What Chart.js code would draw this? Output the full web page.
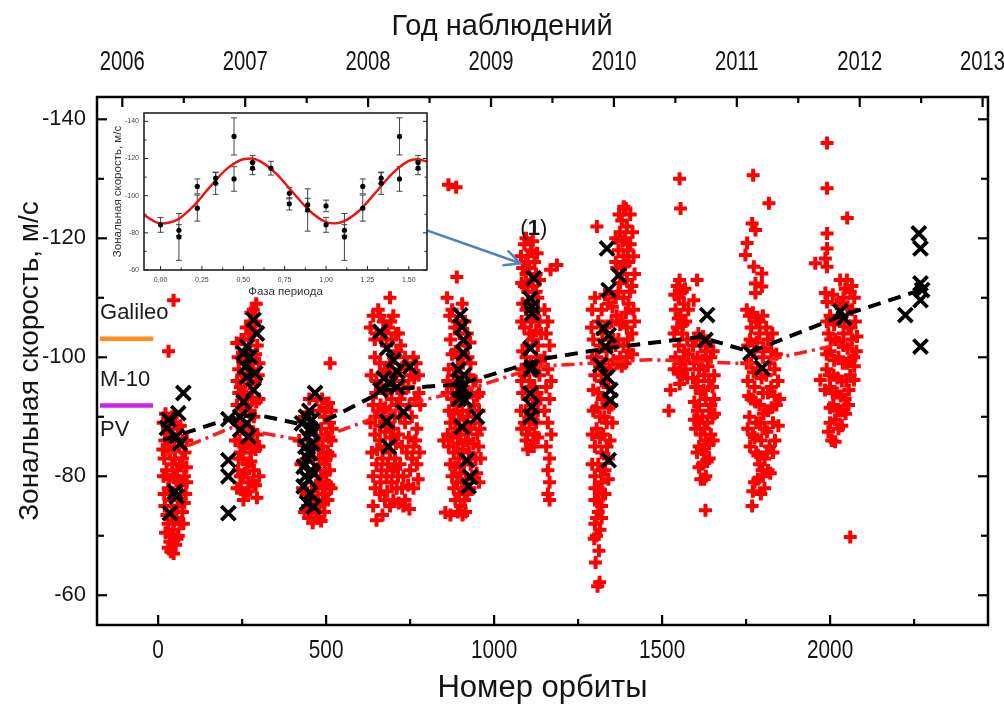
<!DOCTYPE html>
<html><head><meta charset="utf-8">
<script src="https://cdn.jsdelivr.net/npm/chart.js@4.4.1/dist/chart.umd.min.js"></script>
<style>
html,body{margin:0;padding:0;background:#fff;}
#wrap{position:relative;width:1004px;height:704px;overflow:hidden;}
#main{position:absolute;left:0;top:0;}
#insetBox{position:absolute;left:100px;top:103px;width:340px;height:200px;}
</style></head><body>
<div id="wrap">
<canvas id="main" width="1004" height="704"></canvas>
<div id="insetBox"><canvas id="inset" width="340" height="200"></canvas></div>
</div>
<script>
// ---------- main chart data (orbit number, zonal speed m/s) ----------
const xTicks = [0, 500, 1000, 1500, 2000];
const xMinor = [250, 750, 1250, 1750, 2250];
const yearTicks = [2006, 2007, 2008, 2009, 2010, 2011, 2012, 2013];
const yearMinor = [2006.5, 2007.5, 2008.5, 2009.5, 2010.5, 2011.5, 2012.5];
const yTicks = [-140, -120, -100, -80, -60];
const yMinor = [-130, -110, -90, -70];

const red2006 = [[46,-109.6],[31,-101],[15,-89],[28,-88],[42,-90],[58,-88],[72,-86],[20,-86],[35,-84],[50,-83],[65,-82],[80,-84],[25,-81],[45,-80],[60,-79],[78,-80],[30,-78],[50,-77],[68,-76],[82,-77],[20,-75],[40,-74],[55,-73],[72,-74],[30,-72],[45,-71],[60,-70],[35,-69],[52,-68.5],[38,-67.3],[75,-72],[85,-79],[62,-85],[18,-83],[48,-86],
  [22,-90.5],[36,-87],[52,-89],[66,-88.5],[14,-84.5],[28,-85],[42,-82],[56,-81],[72,-83],[84,-81.5],[16,-80],[33,-79.5],[52,-79.8],[68,-78.5],[18,-77],[40,-76],[58,-75],[78,-75.5],[26,-73.5],[48,-72.5],[64,-72],[22,-70.5],[40,-70],[56,-69.5],[30,-68],[46,-67],[85,-86]];
const red2007 = [[283,-108],[290,-106],[280,-104],[270,-103],[295,-102],[260,-101],[250,-100],[275,-99],[240,-98],[265,-97],[290,-96],[245,-95],[255,-94],[280,-93],[235,-92],[260,-91],[285,-90],[245,-89],[270,-88],[295,-87],[230,-86],[255,-85],[275,-84],[240,-83],[265,-82],[285,-81],[250,-80],[270,-79],[235,-78],[260,-77],[294,-76.4],[245,-84],[250,-88],[265,-92],[234,-102.4],[300,-99],[300,-93],[275,-106],[235,-96],[255,-103],[280,-86],[245,-80],[300,-80],[300,-85],
  [292,-109],[276,-107.5],[262,-105],[286,-104.5],[248,-103],[268,-101],[290,-100.5],[238,-100],[258,-99],[282,-98],[298,-97],[250,-97],[272,-95.5],[240,-94],[262,-93.5],[292,-92.5],[250,-91.5],[274,-91],[238,-89.5],[258,-88],[282,-87.5],[242,-86],[266,-85.5],[290,-84.5],[252,-83],[276,-82.5],[238,-81],[258,-80.5],[282,-79],[246,-78],[268,-77.5],[290,-78.5],[254,-76]];
const red2007b = [[512,-99],[507,-92.3],[472,-92.8],[480,-91],[495,-90],[510,-89],[485,-88],[500,-87],[515,-86],[475,-86],[490,-85],[505,-84],[480,-83],[495,-82],[510,-81],[470,-81],[485,-80],[500,-79],[515,-78],[475,-78],[490,-77],[505,-76],[465,-76],[480,-75],[495,-74],[455,-74],[470,-73],[485,-72.5],[445,-75],[460,-72.2],[430,-78],[425,-82],[420,-86],[435,-90],[450,-93],[440,-77],[500,-83],[515,-91],
  [488,-93],[502,-91.5],[518,-88],[470,-88],[478,-84.5],[492,-83],[508,-86.5],[462,-83],[470,-78.5],[486,-79],[498,-80.5],[512,-83.5],[458,-77.5],[476,-76],[492,-75.5],[508,-78.5],[448,-73],[462,-74.5],[478,-73],[496,-77],[436,-74],[452,-76.5]];
const red2008 = [[640,-107],[655,-108],[670,-106],[685,-105],[700,-107],[650,-104],[665,-103],[680,-102],[695,-103],[710,-101],[645,-100],[660,-99],[675,-98],[690,-99],[705,-97],[720,-98],[740,-99],[760,-100],[775,-97],[650,-96],[665,-95],[680,-94],[695,-93],[710,-92],[725,-94],[745,-95],[765,-93],[640,-92],[655,-91],[670,-90],[685,-89],[700,-88],[715,-87],[735,-89],[755,-90],[770,-88],[645,-87],[660,-86],[675,-85],[690,-84],[705,-83],[720,-82],[740,-84],[760,-85],[650,-82],[665,-81],[680,-80],[695,-79],[710,-78],[730,-80],[750,-81],[770,-82],[660,-77],[675,-76],[690,-75],[735,-76],[650,-72.6],[730,-75],[760,-78],[640,-80],[700,-100],[715,-104],[690,-110],[780,-92],
  [632,-105],[645,-103],[660,-107],[676,-104],[692,-106],[708,-104],[722,-102],[735,-100],[752,-97],[768,-99],[634,-97],[648,-94],[662,-92],[676,-91.5],[690,-91],[704,-90],[720,-90],[730,-96],[748,-92],[762,-96.5],[776,-94],[632,-89],[646,-90],[660,-88.5],[676,-87.5],[692,-86.5],[708,-85.5],[726,-85],[746,-86.5],[766,-86],[778,-84],[636,-84],[652,-84.5],[668,-83],[684,-82],[698,-81],[714,-80],[726,-78],[744,-78.5],[756,-83],[774,-79.5],[646,-78],[662,-79],[682,-77.5],[700,-76],[716,-75.5],[748,-74.5],[668,-73.5],[640,-75],[705,-81.5],[720,-93],[695,-96],[680,-97.5]];
const red2009 = [[864,-129],[887,-128.6],[860,-110],[875,-108],[890,-106],[905,-109],[920,-104],[870,-103],[885,-101],[900,-100],[915,-102],[930,-99],[865,-98],[880,-97],[895,-96],[910,-95],[925,-97],[945,-96],[860,-94],[875,-93],[890,-92],[905,-91],[920,-90],[940,-92],[955,-91],[870,-89],[885,-88],[900,-87],[915,-86],[930,-88],[950,-87],[865,-85],[880,-84],[895,-83],[910,-82],[925,-84],[945,-83],[875,-80],[890,-79],[905,-78],[920,-77],[935,-80],[955,-79],[885,-76],[900,-75],[915,-74],[870,-73.5],[960,-83],[889,-113.5],[850,-86],[955,-94],[855,-73.9],
  [868,-107],[883,-105],[897,-104],[913,-106],[928,-102.5],[875,-100.5],[892,-98.5],[907,-99],[922,-100],[938,-96],[862,-96],[874,-95],[888,-94],[903,-93],[918,-93.5],[932,-94],[950,-93.5],[866,-91],[880,-90.5],[896,-89.5],[912,-88.5],[926,-91],[942,-89],[958,-88],[862,-87],[876,-86.5],[892,-85.5],[906,-84.5],[922,-86],[938,-85.5],[954,-85],[870,-82],[884,-81.5],[900,-80.5],[916,-79.5],[930,-82],[948,-80.5],[880,-78],[896,-77],[912,-76],[928,-78],[892,-74],[906,-73.5]];
const red2009b = [[1090,-119],[1100,-117],[1110,-118],[1120,-116],[1085,-115],[1095,-114],[1105,-115],[1125,-114],[1135,-113],[1090,-112],[1100,-111],[1115,-112],[1130,-110],[1085,-109],[1095,-108],[1120,-107],[1135,-106],[1090,-105],[1105,-104],[1115,-103],[1130,-102],[1085,-101],[1095,-100],[1110,-99],[1125,-100],[1090,-97],[1105,-96],[1120,-95],[1135,-97],[1085,-94],[1100,-93],[1115,-92],[1130,-91],[1090,-89],[1105,-88],[1120,-87],[1095,-86],[1110,-85],[1100,-84.5],[1125,-89],[1080,-91],[1140,-104],[1168,-114.7],[1187,-115.5],[1150,-108],[1160,-106],[1155,-104],[1165,-102],[1150,-100],[1160,-98],[1170,-96],[1155,-95],[1165,-93],[1150,-91],[1160,-89],[1170,-87],[1155,-85],[1165,-83],[1160,-81],[1165,-79],[1160,-77],[1165,-76],
  [1095,-120],[1115,-119.5],[1080,-117],[1128,-117.5],[1095,-116],[1110,-113],[1082,-112.5],[1125,-111],[1102,-109],[1130,-108],[1082,-106],[1110,-106],[1098,-102],[1125,-104.5],[1082,-98],[1118,-98],[1138,-99.5],[1098,-98.5],[1112,-95],[1082,-96],[1128,-94],[1094,-91],[1108,-90.5],[1138,-93],[1082,-88],[1116,-89.5],[1098,-87],[1130,-86.5],[1118,-85]];
const red2010 = [[1300,-110],[1320,-108],[1340,-109],[1310,-106],[1330,-105],[1350,-106],[1295,-103],[1315,-102],[1335,-101],[1355,-103],[1305,-100],[1325,-99],[1345,-98],[1300,-97],[1320,-96],[1340,-95],[1310,-94],[1330,-93],[1350,-92],[1295,-91],[1315,-90],[1335,-89],[1305,-88],[1325,-87],[1345,-86],[1300,-85],[1320,-84],[1340,-83],[1310,-82],[1330,-81],[1300,-80],[1320,-79],[1310,-78],[1330,-77],[1300,-76],[1320,-75],[1310,-74],[1300,-72],[1315,-71],[1305,-70],[1320,-73],[1306,-122],[1308,-61.5],[1314,-62.2],
  [1292,-108],[1330,-110.5],[1352,-108.5],[1290,-105],[1322,-104],[1342,-103],[1292,-100],[1314,-98.5],[1336,-97.5],[1355,-99.5],[1295,-94.5],[1322,-93],[1342,-91.5],[1305,-91.5],[1328,-90],[1292,-87],[1315,-86.5],[1336,-85],[1352,-89],[1292,-82],[1318,-81],[1340,-79.5],[1300,-78],[1322,-77],[1310,-76],[1305,-73],[1298,-69.5],[1312,-67.5],[1302,-65.5],
  [1386,-125.3],[1380,-123],[1395,-122],[1375,-121],[1390,-120],[1405,-119],[1370,-118],[1385,-117],[1400,-116],[1415,-117],[1365,-115],[1380,-114],[1395,-113],[1410,-112],[1370,-111],[1385,-110],[1400,-109],[1415,-108],[1365,-107],[1380,-106],[1395,-105],[1410,-104],[1370,-103],[1385,-102],[1400,-101],[1375,-100],[1390,-99],[1380,-98.5],[1405,-124],
  [1372,-124],[1392,-125],[1362,-120],[1382,-119.5],[1412,-121],[1398,-118],[1362,-116],[1390,-115.5],[1418,-114],[1375,-112.5],[1404,-111],[1362,-110],[1392,-107.5],[1418,-106],[1375,-105.5],[1362,-102],[1398,-103],[1412,-100.5],[1368,-99],[1395,-100]];
const red2010b = [[1552,-130],[1555,-125],[1545,-112],[1560,-111],[1550,-110],[1565,-109],[1540,-108],[1555,-107],[1570,-106],[1545,-105],[1560,-104],[1575,-103],[1550,-102],[1565,-101],[1540,-100],[1555,-99],[1570,-98],[1560,-97],[1525,-94.5],[1520,-91],[1604,-113],[1594,-109.6],
  [1538,-110.5],[1552,-113],[1568,-111.5],[1578,-108],[1536,-104],[1548,-106.5],[1562,-105.5],[1578,-100.5],[1536,-98],[1548,-97.5],[1566,-99.5],[1575,-96.5],[1552,-95.5],
  [1600,-103],[1615,-102],[1630,-101],[1645,-100],[1595,-99],[1610,-98],[1625,-97],[1640,-96],[1655,-97],[1600,-95],[1615,-94],[1630,-93],[1645,-92],[1605,-91],[1620,-90],[1635,-89],[1650,-90],[1600,-88],[1615,-87],[1630,-86],[1645,-87],[1610,-85],[1625,-84],[1620,-82],[1630,-80],[1615,-79.5],[1629,-74.3],[1640,-83],[1605,-100],[1655,-93],
  [1592,-102],[1608,-104],[1622,-103.5],[1638,-102.5],[1652,-101],[1592,-96.5],[1606,-96],[1620,-99.5],[1636,-98.5],[1650,-95],[1596,-92.5],[1610,-92],[1624,-94.5],[1640,-91],[1656,-90.5],[1596,-89.5],[1610,-89],[1626,-88],[1640,-85.5],[1652,-86],[1604,-84],[1618,-84.5],[1634,-82.5],[1610,-81.5],[1625,-79.5]];
const red2011 = [[1771,-130.6],[1818,-125.9],[1768,-122.5],[1778,-121.4],[1753,-119.2],[1748,-117.2],[1773,-115.2],[1797,-114.1],[1778,-112.4],[1797,-111.9],[1778,-110.8],
  [1760,-107],[1780,-106],[1800,-107],[1765,-105],[1790,-104],[1815,-103],[1755,-102],[1775,-101],[1800,-100],[1825,-101],[1765,-99],[1785,-98],[1810,-97],[1835,-98],[1755,-96],[1775,-95],[1800,-94],[1825,-95],[1845,-96],[1765,-93],[1790,-92],[1815,-91],[1840,-92],[1760,-90],[1780,-89],[1805,-88],[1830,-89],[1770,-87],[1795,-86],[1820,-85],[1780,-84],[1805,-83],[1830,-84],[1790,-82],[1815,-81],[1800,-80],[1768,-75],[1775,-79],
  [1752,-108],[1770,-107.5],[1790,-106],[1810,-105],[1828,-104],[1762,-103],[1782,-102.5],[1802,-101.5],[1820,-99],[1840,-100.5],[1752,-99],[1772,-97.5],[1796,-96.5],[1815,-94],[1835,-93.5],[1850,-93],[1758,-93.5],[1778,-92.5],[1802,-90.5],[1826,-91.5],[1846,-88.5],[1755,-88],[1775,-86.5],[1792,-89],[1812,-87.5],[1836,-86],[1762,-85],[1785,-83.5],[1812,-84],[1798,-81],[1822,-80.5],[1785,-79.5],[1805,-78],[1770,-77.5],[1794,-77]];
const red2012 = [[1991,-136],[1991,-128.4],[2051,-123.4],[1991,-120.8],[1991,-118.3],[1986,-116.6],[1956,-115.8],[1991,-115.2],[1986,-110.8],[1991,-109.3],
  [2050,-113],[2060,-111],[2040,-110],[2020,-109],[2065,-108],[2000,-107],[2030,-106],[2055,-105],[2075,-106],[1995,-104],[2015,-103],[2040,-102],[2065,-103],[2000,-101],[2025,-100],[2050,-99],[2070,-100],[1990,-98],[2010,-97],[2035,-96],[2060,-97],[1971,-96.2],[2071,-96.2],[2000,-95],[2020,-94],[2045,-93],[2010,-92],[2035,-91],[2055,-92],[2000,-89],[2025,-88],[2005,-86],[2015,-85.8],[2060,-69.8],[2040,-104],
  [2030,-113],[2045,-111.5],[2065,-112],[2008,-110.5],[2032,-109],[2052,-108.5],[2072,-110],[1990,-106],[2012,-105.5],[2042,-106],[2062,-105],[2080,-103.5],[2002,-103],[2026,-102.5],[2052,-101.5],[2078,-101],[1990,-100.5],[2012,-99.5],[2038,-99],[2062,-99.5],[1998,-97],[2022,-96.5],[2048,-96],[2072,-98.5],[1985,-94.5],[2008,-94],[2032,-93.5],[2056,-94.5],[2000,-91.5],[2024,-91],[2046,-90.5],[2015,-89.5],[2035,-88.5],[1995,-87.5]];

const black2006 = [[75,-94],[60,-90.6],[31,-89.5],[26,-88.1],[55,-86.7],[65,-85.5],[50,-77.4],[55,-76.6],[35,-73.8]];
const black2007 = [[209,-82.7],[209,-80],[209,-73.8],[209,-89.6],[284,-106.3],[294,-104],[264,-101.8],[254,-100.7],[274,-100.1],[259,-98.4],[289,-97.3],[264,-96.7],[284,-94.5],[254,-92.5],[244,-90],[264,-88.9],[269,-86.7],[244,-87.8]];
const black2007b = [[467,-94],[428,-88.9],[443,-86.7],[453,-83.9],[433,-81.6],[448,-79.4],[453,-77.1],[443,-75.5],[463,-74.9],[438,-85],[458,-89.5],[463,-80.5],[433,-78.3],[458,-87.2],[440,-90],[450,-91],[445,-83],[455,-81],[438,-80],[448,-84],[460,-85.5],[452,-88]];
const black2008 = [[661,-104.3],[681,-101.5],[701,-99.5],[750,-98.4],[671,-96.5],[691,-95.6],[711,-97.6],[661,-94.5],[731,-90.8],[681,-89.2],[686,-85],[711,-95]];
const black2009 = [[899,-107.1],[904,-105.1],[909,-102.9],[909,-100.7],[894,-97.9],[899,-96.2],[899,-94.5],[914,-92.8],[949,-90],[904,-88.3],[919,-82.7],[929,-79.9],[924,-78.3],[905,-95],[895,-93],[910,-97]];
const black2009b = [[1118,-113.3],[1108,-109.9],[1113,-108.5],[1113,-107.4],[1108,-101.5],[1113,-98.4],[1108,-97.9],[1108,-93.9],[1113,-91.7],[1108,-90]];
const black2010 = [[1336,-118.3],[1371,-113.8],[1341,-111.3],[1326,-104.9],[1341,-103.7],[1331,-101.8],[1316,-98.7],[1336,-96.7],[1346,-94.5],[1346,-92.8],[1341,-82.7]];
const black2011 = [[1634,-107.1],[1629,-102.9],[1763,-100.7],[1798,-98.2]];
const black2012 = [[2031,-107.7],[2041,-106.6],[2264,-120.8],[2269,-118.3],[2269,-112.4],[2274,-111.3],[2269,-109.6],[2224,-107.1],[2269,-101.8]];

const blackLineOrbit = [15, 208, 289, 462, 676, 899, 1152, 1346, 1614, 1763, 2031, 2269];
const blackLineV = [-86.1, -89.6, -90.4, -88.3, -94.5, -95.5, -99.8, -101.6, -103.4, -100.9, -106.9, -111.3];
const redLineOrbit = [20, 220, 453, 780, 899, 1137, 1465, 1763, 2030];
const redLineV = [-83.5, -88.2, -85.8, -92.7, -94.2, -98.5, -99.6, -98.9, -102.2];

const galileoOrbit = [-173, -15], galileoV = [-103.1, -103.1];
const m10Orbit = [-173, -15], m10V = [-91.9, -91.9];

// ---------- inset data (phase, speed, error) ----------
const insetPhase = [0, 0.111, 0.111, 0.222, 0.222, 0.333, 0.333, 0.444, 0.444, 0.556, 0.556, 0.667, 0.778, 0.778, 0.889, 0.889, 1.0, 1.0, 1.111, 1.111, 1.222, 1.222, 1.333, 1.333, 1.444, 1.444, 1.556, 1.556];
const insetV = [-84.3, -81.4, -77.8, -105, -93.3, -109.4, -106.7, -131.9, -109, -117.9, -114.8, -114.8, -101.3, -95.6, -95, -92.3, -94.5, -84.3, -81.4, -77.8, -105, -93.3, -109.4, -106.7, -131.9, -109, -117.9, -114.8];
const insetErr = [4, 3, 12.6, 4, 7, 3, 6, 10, 6.6, 3.8, 3.5, 3.7, 3, 3.3, 3.6, 11.4, 3.1, 4, 3, 12.6, 4, 7, 3, 6, 10, 6.6, 3.8, 3.5];
const curvePhase = [-0.1, 0, 0.1, 0.2, 0.3, 0.4, 0.5, 0.55, 0.6, 0.7, 0.8, 0.9, 1.0, 1.05, 1.1, 1.2, 1.3, 1.4, 1.5, 1.55, 1.61];
const curveV = [-89.5, -85.1, -87.0, -94.5, -104.9, -114.4, -119.6, -120, -118.6, -111.8, -101.7, -91.9, -85.8, -85.1, -85.9, -91.9, -101.7, -111.9, -118.7, -119.6, -118.4];
const insetXTicks = [0, 0.25, 0.5, 0.75, 1.0, 1.25, 1.5];
const insetXMinor = [0.125, 0.375, 0.625, 0.875, 1.125, 1.375];
const insetYTicks = [-140, -120, -100, -80, -60];
const insetYMinor = [-130, -110, -90, -70];

// ---------- build ----------
const pts = arr => arr.map(([x, y]) => ({x, y}));
const zip = (xs, ys) => xs.map((x, i) => ({x, y: ys[i]}));
const redAll = pts([].concat(red2006, red2007, red2007b, red2008, red2009, red2009b, red2010, red2010b, red2011, red2012));
const blackAll = pts([].concat(black2006, black2007, black2007b, black2008, black2009, black2009b, black2010, black2011, black2012));

const SANS = "'Liberation Sans',Arial,sans-serif";
const TXT = '#151515';
const noPad = s => { s.paddingLeft = 0; s.paddingRight = 0; s.paddingTop = 0; s.paddingBottom = 0; };

const framePlugin = {
  id: 'frame',
  afterDraw(chart) {
    const {ctx, chartArea: a, scales} = chart;
    ctx.save();
    ctx.strokeStyle = '#000';
    ctx.lineWidth = 2.5;
    ctx.strokeRect(a.left, a.top, a.right - a.left, a.bottom - a.top);
    ctx.lineWidth = 2.2;
    const seg = (x1, y1, x2, y2) => { ctx.beginPath(); ctx.moveTo(x1, y1); ctx.lineTo(x2, y2); ctx.stroke(); };
    xTicks.forEach(v => { const p = scales.x.getPixelForValue(v); seg(p, a.bottom, p, a.bottom - 10); });
    xMinor.forEach(v => { const p = scales.x.getPixelForValue(v); seg(p, a.bottom, p, a.bottom - 6); });
    yearTicks.forEach(v => { const p = scales.x2.getPixelForValue(v); seg(p, a.top, p, a.top + 10); });
    yearMinor.forEach(v => { const p = scales.x2.getPixelForValue(v); seg(p, a.top, p, a.top + 6); });
    yTicks.forEach(v => { const p = scales.y.getPixelForValue(v); seg(a.left, p, a.left + 10, p); seg(a.right, p, a.right - 10, p); });
    yMinor.forEach(v => { const p = scales.y.getPixelForValue(v); seg(a.left, p, a.left + 7, p); seg(a.right, p, a.right - 7, p); });

    // condensed tick labels for the two horizontal axes
    ctx.fillStyle = TXT;
    const cond = (txt, x, y, size, k) => {
      ctx.save(); ctx.font = size + "px " + SANS; ctx.translate(x, y); ctx.scale(k, 1);
      ctx.textAlign = 'center'; ctx.textBaseline = 'middle'; ctx.fillText(txt, 0, 0); ctx.restore();
    };
    xTicks.forEach(v => cond(String(v), scales.x.getPixelForValue(v), a.bottom + 26, 26, 0.8));
    yearTicks.forEach(v => cond(String(v), scales.x2.getPixelForValue(v), a.top - 34, 27, 0.75));

    const X = v => scales.x.getPixelForValue(v), Y = v => scales.y.getPixelForValue(v);
    ctx.fillStyle = '#1a1a1a';
    ctx.font = "22px " + SANS;
    ctx.textAlign = 'left'; ctx.textBaseline = 'middle';
    ctx.fillText('Galileo', X(-173), Y(-107.4));
    ctx.fillText('M-10', X(-173), Y(-96.2));
    ctx.fillText('PV', X(-173), Y(-87.8));

    const x1 = X(696), y1 = Y(-123.4), x2 = X(1078), y2 = Y(-115.8);
    ctx.strokeStyle = '#4f81bd'; ctx.lineWidth = 2.5; ctx.lineCap = 'round';
    seg(x1, y1, x2, y2);
    const ang = Math.atan2(y2 - y1, x2 - x1), L = 17, w = 0.45;
    ctx.beginPath();
    ctx.moveTo(x2 - L * Math.cos(ang - w), y2 - L * Math.sin(ang - w));
    ctx.lineTo(x2, y2);
    ctx.lineTo(x2 - L * Math.cos(ang + w), y2 - L * Math.sin(ang + w));
    ctx.stroke();
    ctx.fillStyle = '#111';
    const tx = X(1118), ty = Y(-121.5);
    ctx.font = "22px " + SANS;
    const wP = ctx.measureText('(').width;
    ctx.font = "bold 22px " + SANS;
    const w1 = ctx.measureText('1').width;
    let cx = tx - (wP * 2 + w1) / 2;
    ctx.font = "22px " + SANS; ctx.fillText('(', cx, ty); cx += wP;
    ctx.font = "bold 22px " + SANS; ctx.fillText('1', cx, ty); cx += w1;
    ctx.font = "22px " + SANS; ctx.fillText(')', cx, ty);
    ctx.restore();
  }
};

const TITLE_SIZE = 29, TITLE_PAD = 10;

new Chart(document.getElementById('main'), {
  type: 'scatter',
  data: {
    datasets: [
      {data: redAll, pointStyle: 'cross', pointRadius: 6.5, pointBorderColor: '#ff0000', pointBorderWidth: 4, borderColor: '#ff0000', order: 6},
      {type: 'line', data: zip(redLineOrbit, redLineV), borderColor: '#ff1a1a', borderWidth: 3.5, borderDash: [13, 5, 3, 5], pointRadius: 0, fill: false, tension: 0, order: 5},
      {type: 'line', data: zip(blackLineOrbit, blackLineV), borderColor: '#000', borderWidth: 4, borderDash: [13, 8], pointRadius: 0, fill: false, tension: 0, order: 4},
      {type: 'line', data: zip(galileoOrbit, galileoV), borderColor: '#ff8a1e', borderWidth: 4.5, pointRadius: 0, fill: false, order: 3},
      {type: 'line', data: zip(m10Orbit, m10V), borderColor: '#cc22f0', borderWidth: 4.5, pointRadius: 0, fill: false, order: 3},
      {data: blackAll, pointStyle: 'crossRot', pointRadius: 10, pointBorderColor: '#000', pointBorderWidth: 3.8, borderColor: '#000', order: 1}
    ]
  },
  options: {
    responsive: false, animation: false,
    layout: {padding: 0},
    plugins: {
      legend: {display: false}, tooltip: {enabled: false},
      title: {display: true, text: 'Год наблюдений', color: TXT, font: {family: SANS, size: TITLE_SIZE, weight: 'normal'}, padding: {top: TITLE_PAD, bottom: 0}}
    },
    scales: {
      x: {
        type: 'linear', position: 'bottom', min: -182, max: 2470,
        grid: {display: false, drawTicks: false}, border: {display: false},
        afterBuildTicks: s => { s.ticks = xTicks.map(v => ({value: v})); },
        afterFit: s => { s.height = 79; noPad(s); },
        ticks: {display: false},
        title: {display: true, text: 'Номер орбиты', color: TXT, font: {family: SANS, size: 31}, padding: {top: 0, bottom: -3}}
      },
      x2: {
        axis: 'x', type: 'linear', position: 'top', min: 2005.794, max: 2013.044,
        grid: {display: false, drawTicks: false}, border: {display: false},
        afterBuildTicks: s => { s.ticks = yearTicks.map(v => ({value: v})); },
        afterFit: s => { s.height = 97 - (TITLE_SIZE * 1.2 + TITLE_PAD); noPad(s); },
        ticks: {display: false}
      },
      y: {
        type: 'linear', position: 'left', min: -143.75, max: -55, reverse: true,
        grid: {display: false, drawTicks: false}, border: {display: false},
        afterBuildTicks: s => { s.ticks = yTicks.map(v => ({value: v})); },
        afterFit: s => { s.width = 97; noPad(s); },
        ticks: {padding: 11, color: TXT, font: {family: SANS, size: 22}, autoSkip: false, callback: v => String(v)},
        title: {display: true, text: 'Зональная скорость, м/с', color: TXT, font: {family: SANS, size: 28}, padding: {top: 13, bottom: 0}}
      },
      yR: {
        axis: 'y', type: 'linear', position: 'right', min: 0, max: 1,
        grid: {display: false, drawTicks: false}, border: {display: false},
        ticks: {display: false},
        afterFit: s => { s.width = 16; noPad(s); }
      }
    }
  },
  plugins: [framePlugin]
});

// ---------- inset chart ----------
const insetFrame = {
  id: 'insetFrame',
  beforeDatasetsDraw(chart) {
    const {ctx, chartArea: a, scales: {x, y}} = chart;
    ctx.save();
    ctx.fillStyle = '#fff';
    ctx.fillRect(a.left, a.top, a.right - a.left, a.bottom - a.top);
    ctx.strokeStyle = '#444'; ctx.lineWidth = 1;
    insetPhase.forEach((p, i) => {
      const px = x.getPixelForValue(p);
      const yA = y.getPixelForValue(insetV[i] - insetErr[i]);
      const yB = y.getPixelForValue(insetV[i] + insetErr[i]);
      ctx.beginPath();
      ctx.moveTo(px, yA); ctx.lineTo(px, yB);
      ctx.moveTo(px - 3, yA); ctx.lineTo(px + 3, yA);
      ctx.moveTo(px - 3, yB); ctx.lineTo(px + 3, yB);
      ctx.stroke();
    });
    ctx.restore();
  },
  afterDraw(chart) {
    const {ctx, chartArea: a, scales: {x, y}} = chart;
    ctx.save();
    ctx.strokeStyle = '#222'; ctx.lineWidth = 1.6;
    ctx.strokeRect(a.left, a.top, a.right - a.left, a.bottom - a.top);
    ctx.lineWidth = 1;
    const seg = (x1, y1, x2, y2) => { ctx.beginPath(); ctx.moveTo(x1, y1); ctx.lineTo(x2, y2); ctx.stroke(); };
    insetXTicks.forEach(v => { const p = x.getPixelForValue(v); seg(p, a.bottom, p, a.bottom - 4); });
    insetXMinor.forEach(v => { const p = x.getPixelForValue(v); seg(p, a.bottom, p, a.bottom - 2.5); });
    insetYTicks.forEach(v => { const p = y.getPixelForValue(v); seg(a.left, p, a.left + 4, p); seg(a.right, p, a.right - 4, p); });
    insetYMinor.forEach(v => { const p = y.getPixelForValue(v); seg(a.left, p, a.left + 2.5, p); seg(a.right, p, a.right - 2.5, p); });
    ctx.restore();
  }
};

new Chart(document.getElementById('inset'), {
  type: 'scatter',
  data: {
    datasets: [
      {data: zip(insetPhase, insetV), pointStyle: 'circle', pointRadius: 2.6, pointBackgroundColor: '#000', pointBorderColor: '#000', pointBorderWidth: 0, order: 1},
      {type: 'line', data: zip(curvePhase, curveV), borderColor: '#ee1111', borderWidth: 2.4, pointRadius: 0, fill: false, cubicInterpolationMode: 'monotone', order: 2}
    ]
  },
  options: {
    responsive: false, animation: false,
    layout: {padding: {left: 0, right: 13, top: 10, bottom: 0}},
    plugins: {legend: {display: false}, tooltip: {enabled: false}},
    scales: {
      x: {
        type: 'linear', min: -0.1, max: 1.61,
        grid: {display: false, drawTicks: false}, border: {display: false},
        afterBuildTicks: s => { s.ticks = insetXTicks.map(v => ({value: v})); },
        afterFit: s => { s.height = 33; noPad(s); },
        ticks: {padding: 6, color: '#444', font: {family: SANS, size: 7}, autoSkip: false, maxRotation: 0, callback: v => v.toFixed(2).replace('.', ',')},
        title: {display: true, text: 'Фаза периода', color: '#333', font: {family: SANS, size: 11.5}, padding: {top: 0, bottom: 4.5}}
      },
      y: {
        type: 'linear', min: -144.5, max: -60, reverse: true,
        grid: {display: false, drawTicks: false}, border: {display: false},
        afterBuildTicks: s => { s.ticks = insetYTicks.map(v => ({value: v})); },
        afterFit: s => { s.width = 44; noPad(s); },
        ticks: {padding: 5, color: '#444', font: {family: SANS, size: 7}, autoSkip: false, callback: v => String(v)},
        title: {display: true, text: 'Зональная скорость, м/с', color: '#333', font: {family: SANS, size: 11.5}, padding: {top: 11, bottom: 0}}
      }
    }
  },
  plugins: [insetFrame]
});
</script>
</body></html>
